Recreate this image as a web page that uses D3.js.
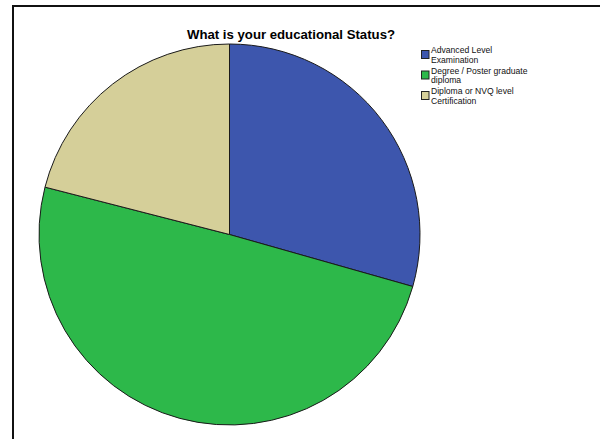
<!DOCTYPE html>
<html>
<head>
<meta charset="utf-8">
<script src="https://cdn.jsdelivr.net/npm/d3@7"></script>
<style>
  html, body { margin: 0; padding: 0; background: #fff; }
  svg { display: block; }
</style>
</head>
<body>
<svg id="chart" width="600" height="439"></svg>
<script>
// Survey responses: educational status (percent of respondents)
const categories = [
  ["Advanced Level", "Examination"],
  ["Degree / Poster graduate", "diploma"],
  ["Diploma or NVQ level", "Certification"]
];
const values = [29.4, 49.6, 21.0];
const colors = ["#3d56ad", "#2db84a", "#d5cf99"];
const title = "What is your educational Status?";

const svg = d3.select("#chart");
const font = "'Liberation Sans', Arial, sans-serif";

// Frame lines (top and left)
svg.append("path")
  .attr("d", "M13,439 L13,6 L600,6")
  .attr("fill", "none")
  .attr("stroke", "#111")
  .attr("stroke-width", 2);

// Title
svg.append("text")
  .attr("x", 291)
  .attr("y", 39)
  .attr("text-anchor", "middle")
  .attr("font-family", font)
  .attr("font-weight", "bold")
  .attr("font-size", 13.2)
  .attr("fill", "#000")
  .text(title);

// Pie
const cx = 229.5, cy = 234.5, r = 190.5;
const pie = d3.pie().sort(null).value(d => d)(values);
const arc = d3.arc().innerRadius(0).outerRadius(r);

svg.append("g")
  .attr("transform", `translate(${cx},${cy})`)
  .selectAll("path")
  .data(pie)
  .join("path")
  .attr("d", arc)
  .attr("fill", (d, i) => colors[i])
  .attr("stroke", "#1a1a1a")
  .attr("stroke-width", 1)
  .attr("stroke-linejoin", "round");

// Legend
const legend = svg.append("g").attr("transform", "translate(421,50)");
const item = legend.selectAll("g")
  .data(categories)
  .join("g")
  .attr("transform", (d, i) => `translate(0,${i * 20.5})`);

item.append("rect")
  .attr("x", 0.5)
  .attr("y", 0.5)
  .attr("width", 7.5)
  .attr("height", 8)
  .attr("fill", (d, i) => colors[i])
  .attr("stroke", "#222")
  .attr("stroke-width", 1);

item.append("text")
  .attr("font-family", font)
  .attr("font-size", 8.6)
  .attr("fill", "#111")
  .selectAll("tspan")
  .data(d => d)
  .join("tspan")
  .attr("x", 10)
  .attr("y", (d, j) => 3 + j * 9.6)
  .text(d => d);
</script>
</body>
</html>
